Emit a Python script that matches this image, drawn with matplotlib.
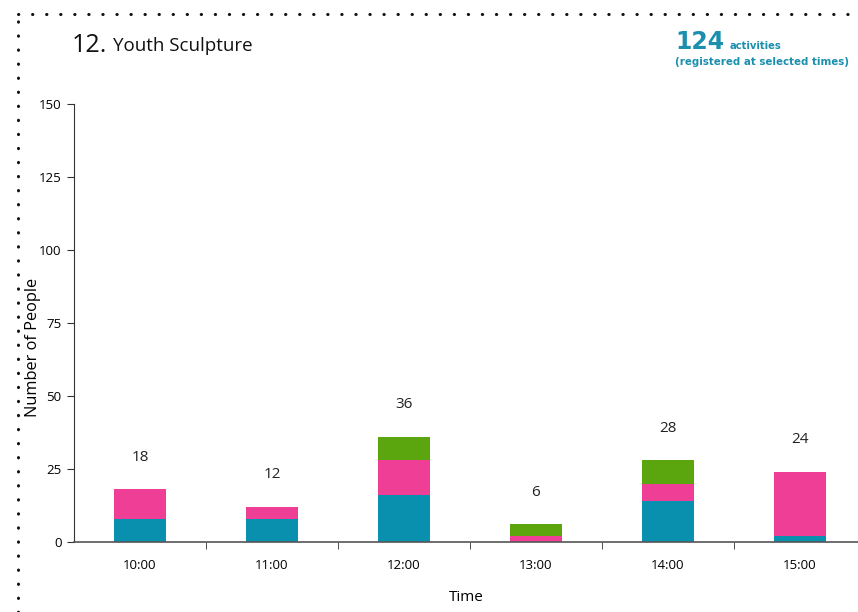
import numpy as np
import matplotlib.pyplot as plt
from matplotlib.lines import Line2D

# data
times = ['10:00', '11:00', '12:00', '13:00', '14:00', '15:00']
teal_vals = [8, 8, 16, 0, 14, 2]
pink_vals = [10, 4, 12, 2, 6, 22]
green_vals = [0, 0, 8, 4, 8, 0]
totals = [t + p + g for t, p, g in zip(teal_vals, pink_vals, green_vals)]

teal = '#0890ae'
pink = '#ee3e96'
green = '#5ba50f'

plt.rcParams['font.family'] = ['Open Sans', 'DejaVu Sans']

fig = plt.figure(figsize=(8.58, 6.12), dpi=100)
ax = fig.add_axes([74/858, 1-542/612, (858-74)/858, (542-104)/612])

x = np.arange(len(times))
w = 0.4
ax.bar(x, teal_vals, w, color=teal, zorder=2)
ax.bar(x, pink_vals, w, bottom=teal_vals, color=pink, zorder=2)
ax.bar(x, green_vals, w, bottom=np.add(teal_vals, pink_vals), color=green, zorder=2)

for xi, t in zip(x, totals):
    ax.text(xi, t + 11, str(t), ha='center', va='center', fontsize=11, color='#222222')

ax.set_xlim(-0.5, 5.44)
ax.set_ylim(0, 150)
ax.set_yticks(range(0, 151, 25))
ax.tick_params(axis='y', labelsize=9.5, length=5, color='#333333', pad=4)

# x ticks between categories, labels at bar centers
ax.set_xticks(x)
ax.set_xticklabels(times, fontsize=9.5)
ax.tick_params(axis='x', length=0, pad=12)
ax.set_xticks(np.arange(0.5, 5.0, 1), minor=True)
ax.tick_params(axis='x', which='minor', length=5, color='#333333')

for s in ['top', 'right']:
    ax.spines[s].set_visible(False)
ax.spines['left'].set_color('#333333')
ax.spines['bottom'].set_color('#555555')
ax.spines['bottom'].set_linewidth(1.2)

ax.set_xlabel('Time', fontsize=11, labelpad=13)
ax.set_ylabel('Number of People', fontsize=11.8)
ax.yaxis.set_label_coords(-0.042, 0.445)

# title
fig.text(72/858, 1-46/612, '12.', fontsize=18, va='center', color='#111111')
fig.text(113/858, 1-46/612, 'Youth Sculpture', fontsize=13.5, va='center', color='#111111')

# summary at top right
fig.text(675/858, 1-42/612, '124', fontsize=17, fontweight='bold', color='#1a8fae',
         va='center', family='DejaVu Sans')
fig.text(730/858, 1-46/612, 'activities', fontsize=7.2, fontweight='bold', color='#1a8fae',
         va='center', family='DejaVu Sans')
fig.text(675/858, 1-62/612, '(registered at selected times)', fontsize=7.4, fontweight='bold',
         color='#1a8fae', va='center', family='DejaVu Sans')

# dotted frame
fig.add_artist(Line2D([18/858, 1], [1-14/612, 1-14/612], transform=fig.transFigure,
                      color='#111111', linestyle=(0, (0.1, 4.5)), linewidth=2.2,
                      dash_capstyle='round'))
fig.add_artist(Line2D([18/858, 18/858], [0, 1-14/612], transform=fig.transFigure,
                      color='#111111', linestyle=(0, (0.1, 4.5)), linewidth=2.2,
                      dash_capstyle='round'))

fig.savefig('out.png', dpi=100)
